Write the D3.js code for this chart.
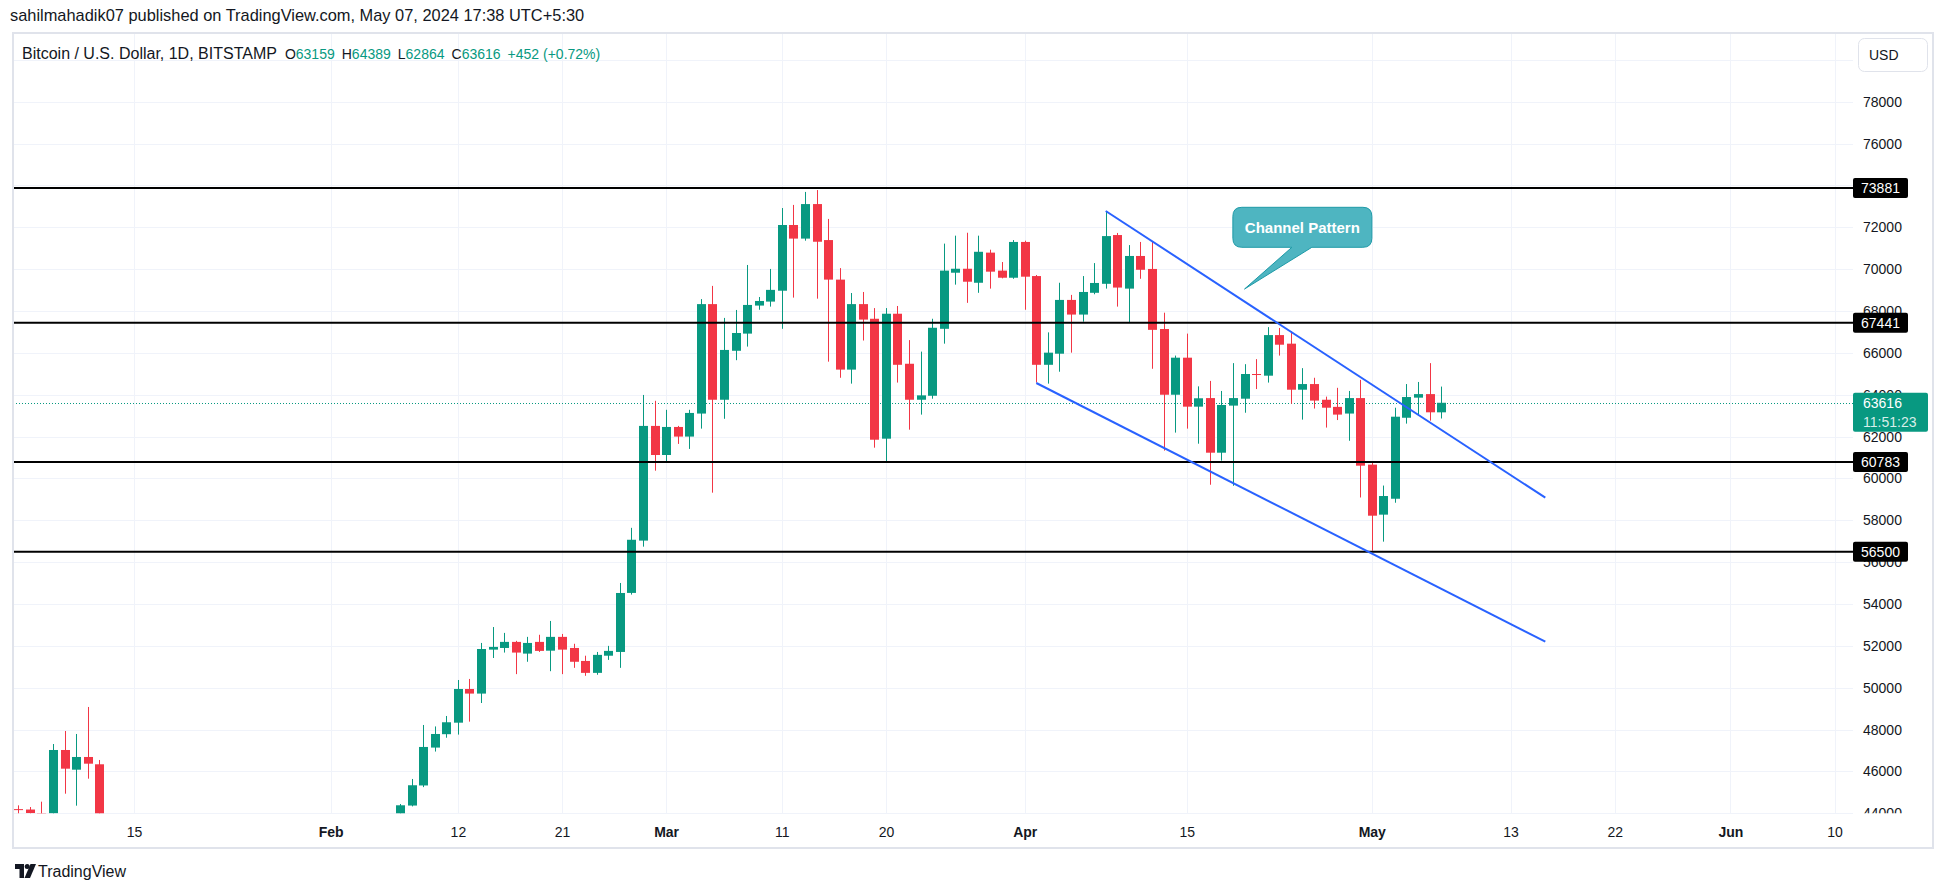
<!DOCTYPE html>
<html>
<head>
<meta charset="utf-8">
<script src="https://cdn.jsdelivr.net/npm/d3@7"></script>
<style>
  body { margin: 0; background: #fff; }
  svg { display: block; font-family: "Liberation Sans", Arial, sans-serif; }
</style>
</head>
<body>
<div id="chart-container"></div>
<script>
// daily candles, BTC/USD Bitstamp
const candleDates = [
  "2024-01-05","2024-01-06","2024-01-07","2024-01-08","2024-01-09","2024-01-10","2024-01-11","2024-01-12",
  "2024-02-07","2024-02-08","2024-02-09","2024-02-10","2024-02-11","2024-02-12","2024-02-13","2024-02-14",
  "2024-02-15","2024-02-16","2024-02-17","2024-02-18","2024-02-19","2024-02-20","2024-02-21","2024-02-22",
  "2024-02-23","2024-02-24","2024-02-25","2024-02-26","2024-02-27","2024-02-28","2024-02-29","2024-03-01",
  "2024-03-02","2024-03-03","2024-03-04","2024-03-05","2024-03-06","2024-03-07","2024-03-08","2024-03-09",
  "2024-03-10","2024-03-11","2024-03-12","2024-03-13","2024-03-14","2024-03-15","2024-03-16","2024-03-17",
  "2024-03-18","2024-03-19","2024-03-20","2024-03-21","2024-03-22","2024-03-23","2024-03-24","2024-03-25",
  "2024-03-26","2024-03-27","2024-03-28","2024-03-29","2024-03-30","2024-03-31","2024-04-01","2024-04-02",
  "2024-04-03","2024-04-04","2024-04-05","2024-04-06","2024-04-07","2024-04-08","2024-04-09","2024-04-10",
  "2024-04-11","2024-04-12","2024-04-13","2024-04-14","2024-04-15","2024-04-16","2024-04-17","2024-04-18",
  "2024-04-19","2024-04-20","2024-04-21","2024-04-22","2024-04-23","2024-04-24","2024-04-25","2024-04-26",
  "2024-04-27","2024-04-28","2024-04-29","2024-04-30","2024-05-01","2024-05-02","2024-05-03","2024-05-04",
  "2024-05-05","2024-05-06","2024-05-07"
];
const opens = [
  44200,44180,44010,43990,47025,46084,46691,46342,
  43090,44370,45330,47140,47780,48330,49940,49720,
  51820,51900,52190,51630,52190,51770,52430,51900,
  51280,50710,51530,51710,54530,57030,62510,61120,
  62460,62000,63100,68330,63760,66100,66920,68260,
  68450,68970,72110,71460,73110,71390,69500,65200,
  68330,67630,61900,67870,65480,63760,63950,67150,
  69830,70020,69350,70790,69930,69590,71300,69670,
  65430,65960,68530,67830,68870,69300,71630,69070,
  70630,70010,67140,64000,65770,63430,63840,61230,
  63480,63810,64990,64910,66850,66440,64240,64510,
  63760,63420,63100,63840,60660,58270,59030,62900,
  63860,64030,63159
];
const highs = [
  44380,44300,44555,47310,47933,47790,49080,46548,
  44445,45640,48220,48150,48650,50370,50420,52140,
  52900,52620,52240,52430,52530,53190,52570,52100,
  51530,51710,52000,55005,57640,63990,63710,63280,
  62510,63280,68570,69200,67670,68050,70200,68670,
  70010,72920,73070,73690,73780,72400,70050,68860,
  68910,68140,68140,68240,66610,66060,67630,71220,
  71600,71740,71600,70930,70340,71390,71360,69720,
  66980,69350,68770,69670,70290,72780,71730,71150,
  71300,71300,67920,65870,66920,64400,64660,64180,
  65510,65460,65700,67230,67190,67040,65270,64810,
  63910,64330,64180,64710,60800,59660,63380,64510,
  64610,65510,64389
];
const lows = [
  42600,43400,43600,43200,44937,44364,45654,41500,
  42800,44330,45250,46950,47610,47760,48380,49270,
  51420,51680,50650,51240,51710,50790,50650,50950,
  50570,50620,51330,50950,54450,56740,60370,60790,
  61650,61410,62380,59320,62850,65650,66300,68060,
  68210,67150,68640,71360,68590,65580,64810,64530,
  66590,61470,60800,64580,62330,63050,63810,66440,
  69260,68390,68870,69070,69560,69540,68060,64580,
  64530,65100,66010,67490,68800,69070,68210,67440,
  69540,65240,61330,62190,62380,61660,59700,60850,
  59650,63140,64270,64580,65870,63570,62810,63340,
  62430,62790,61800,59090,56550,56980,58840,62620,
  63000,62760,62864
];
const closes = [
  44180,44010,43990,47025,46132,46691,46371,42780,
  44383,45340,47170,47790,48350,49940,49720,51850,
  51950,52190,51680,52140,51760,52430,51820,51240,
  50710,51570,51760,54527,57070,62510,61120,62460,
  62000,63130,68330,63760,66140,66950,68290,68480,
  69010,72110,71460,73110,71310,69500,65200,68330,
  67590,61850,67870,65430,63760,63970,67200,69930,
  70020,69400,70830,69880,69590,71300,69640,65430,
  66010,68530,67830,68910,69340,71580,69120,70630,
  69970,67100,64000,65770,63430,63830,61230,63510,
  63840,64990,64950,66850,66390,64240,64510,63720,
  63380,63050,63840,60610,58220,59160,62950,63890,
  64030,63160,63616
];

const gridPrices = [44000,46000,48000,50000,52000,54000,56000,58000,60000,62000,64000,66000,68000,70000,72000,74000,76000,78000,80000];
const priceTickLabels = [44000,46000,48000,50000,52000,54000,56000,58000,60000,62000,64000,66000,68000,70000,72000,74000,76000,78000];
const timeTickDates = ["2024-01-15","2024-02-01","2024-02-12","2024-02-21","2024-03-01","2024-03-11","2024-03-20","2024-04-01","2024-04-15","2024-05-01","2024-05-13","2024-05-22","2024-06-01","2024-06-10"];
const timeTickLabels = ["15","Feb","12","21","Mar","11","20","Apr","15","May","13","22","Jun","10"];
const monthLabels = ["Feb","Mar","Apr","May","Jun"];

const levelValues = [73881, 67441, 60783, 56500];
const upperChannel = [["2024-04-08", 72780], ["2024-05-16", 59080]];
const lowerChannel = [["2024-04-02", 64560], ["2024-05-16", 52200]];
const lastPrice = 63616;
const countdown = "11:51:23";
const calloutText = "Channel Pattern";
const calloutAnchor = ["2024-04-25", 72000];
const calloutTip = ["2024-04-20", 69050];

const publishedText = "sahilmahadik07 published on TradingView.com, May 07, 2024 17:38 UTC+5:30";
const symbolText = "Bitcoin / U.S. Dollar, 1D, BITSTAMP";
const ohlcLegend = [["O", "63159"], ["H", "64389"], ["L", "62864"], ["C", "63616"]];
const changeText = "+452 (+0.72%)";

const container = document.getElementById("chart-container");

function candleChart() {
    const width = 1946;
    const height = 893;
    const paneLeft = 13, paneTop = 33, paneRight = 1933, paneBottom = 848;
    const plotRight = 1853, plotBottom = 813.3;

    const green = "#089981";
    const red = "#F23645";
    const gridColor = "#f0f3fa";
    const textColor = "#131722";

    const parse = d3.utcParse("%Y-%m-%d");
    const data = candleDates.map((d, i) => ({
        date: parse(d), o: opens[i], h: highs[i], l: lows[i], c: closes[i]
    }));

    // scales: one day ~ 11.57px, 2000 USD ~ 41.9px
    const x = d3.scaleUtc()
        .domain([parse("2024-01-15"), parse("2024-06-10")])
        .range([134, 1834.5]);
    const y = d3.scaleLinear()
        .domain([44000, 72000])
        .range([plotBottom, 227.3]);

    const svg = d3.create("svg")
        .attr("width", width)
        .attr("height", height);

    const defs = svg.append("defs");
    defs.append("clipPath").attr("id", "plot-clip")
        .append("rect")
        .attr("x", paneLeft).attr("y", paneTop)
        .attr("width", plotRight - paneLeft).attr("height", plotBottom - paneTop);
    defs.append("clipPath").attr("id", "scale-clip")
        .append("rect")
        .attr("x", plotRight).attr("y", paneTop)
        .attr("width", paneRight - plotRight).attr("height", plotBottom - paneTop);

    // grid
    svg.append("g")
        .selectAll("line")
        .data(gridPrices)
        .join("line")
        .attr("x1", paneLeft).attr("x2", plotRight)
        .attr("y1", d => Math.round(y(d)) + 0.5).attr("y2", d => Math.round(y(d)) + 0.5)
        .attr("stroke", gridColor);

    svg.append("g")
        .selectAll("line")
        .data(timeTickDates.map(parse))
        .join("line")
        .attr("x1", d => Math.round(x(d)) + 0.5).attr("x2", d => Math.round(x(d)) + 0.5)
        .attr("y1", paneTop).attr("y2", plotBottom)
        .attr("stroke", gridColor);

    // last price dotted line
    svg.append("line")
        .attr("x1", paneLeft).attr("x2", plotRight)
        .attr("y1", Math.round(y(lastPrice)) + 0.5).attr("y2", Math.round(y(lastPrice)) + 0.5)
        .attr("stroke", green)
        .attr("stroke-dasharray", "1,2");

    // candles
    const bodyW = 9;
    const candles = svg.append("g")
        .attr("clip-path", "url(#plot-clip)")
        .selectAll("g")
        .data(data)
        .join("g");

    candles.append("line")
        .attr("x1", d => Math.round(x(d.date)) + 0.5)
        .attr("x2", d => Math.round(x(d.date)) + 0.5)
        .attr("y1", d => y(d.h))
        .attr("y2", d => y(d.l))
        .attr("stroke", d => d.c >= d.o ? green : red);

    candles.append("rect")
        .attr("x", d => Math.round(x(d.date)) - 4)
        .attr("y", d => y(Math.max(d.o, d.c)))
        .attr("width", bodyW)
        .attr("height", d => Math.max(1, Math.abs(y(d.o) - y(d.c))))
        .attr("fill", d => d.c >= d.o ? green : red);

    // horizontal levels
    svg.append("g")
        .selectAll("line")
        .data(levelValues)
        .join("line")
        .attr("x1", paneLeft).attr("x2", plotRight)
        .attr("y1", d => y(d)).attr("y2", d => y(d))
        .attr("stroke", "#000")
        .attr("stroke-width", 2);

    // channel
    const channelLine = d3.line()
        .x(d => x(parse(d[0])))
        .y(d => y(d[1]));
    svg.append("g")
        .attr("clip-path", "url(#plot-clip)")
        .selectAll("path")
        .data([upperChannel, lowerChannel])
        .join("path")
        .attr("d", channelLine)
        .attr("fill", "none")
        .attr("stroke", "#2962FF")
        .attr("stroke-width", 2);

    // time axis
    const tickDates = timeTickDates.map(parse);
    const xAxis = svg.append("g")
        .attr("transform", `translate(0,${plotBottom})`)
        .call(d3.axisBottom(x)
            .tickValues(tickDates)
            .tickFormat((d, i) => timeTickLabels[i])
            .tickSize(0));
    xAxis.select(".domain").remove();
    xAxis.selectAll("text")
        .attr("y", 18.5)
        .attr("dy", "0.35em")
        .attr("fill", textColor)
        .attr("font-size", 14)
        .attr("font-family", "Liberation Sans, Arial, sans-serif")
        .attr("font-weight", (d, i) => monthLabels.includes(timeTickLabels[i]) ? "bold" : "normal");

    // price axis
    const yAxis = svg.append("g")
        .attr("clip-path", "url(#scale-clip)")
        .append("g")
        .attr("transform", `translate(1863,0)`)
        .call(d3.axisRight(y)
            .tickValues(priceTickLabels)
            .tickFormat(d3.format("d"))
            .tickSize(0)
            .tickPadding(0));
    yAxis.select(".domain").remove();
    yAxis.selectAll("text")
        .attr("fill", textColor)
        .attr("font-size", 14)
        .attr("font-family", "Liberation Sans, Arial, sans-serif");

    // level labels on the price scale
    const levelTags = svg.append("g")
        .selectAll("g")
        .data(levelValues)
        .join("g")
        .attr("transform", d => `translate(1853,${y(d)})`);
    levelTags.append("rect")
        .attr("x", 0).attr("y", -10)
        .attr("width", 55).attr("height", 20)
        .attr("rx", 2)
        .attr("fill", "#000");
    levelTags.append("text")
        .attr("x", 27.5).attr("dy", "0.36em")
        .attr("text-anchor", "middle")
        .attr("fill", "#fff")
        .attr("font-size", 14)
        .text(d => d);

    // last price tag
    const lastTag = svg.append("g")
        .attr("transform", `translate(1853,${y(lastPrice)})`);
    lastTag.append("rect")
        .attr("x", 0).attr("y", -10)
        .attr("width", 75).attr("height", 39)
        .attr("rx", 2)
        .attr("fill", green);
    lastTag.append("text")
        .attr("x", 10).attr("dy", "0.36em")
        .attr("fill", "#fff")
        .attr("font-size", 14)
        .text(lastPrice);
    lastTag.append("text")
        .attr("x", 10).attr("y", 19).attr("dy", "0.36em")
        .attr("fill", "#fff").attr("fill-opacity", 0.85)
        .attr("font-size", 14)
        .text(countdown);

    // callout
    const cx = x(parse(calloutAnchor[0]));
    const cy = y(calloutAnchor[1]);
    const tipX = x(parse(calloutTip[0]));
    const tipY = y(calloutTip[1]);
    const bw = 139, bh = 40, r = 9;
    const bx = cx - bw / 2, by = cy - bh / 2;
    const p = d3.path();
    p.moveTo(bx + r, by);
    p.lineTo(bx + bw - r, by);
    p.quadraticCurveTo(bx + bw, by, bx + bw, by + r);
    p.lineTo(bx + bw, by + bh - r);
    p.quadraticCurveTo(bx + bw, by + bh, bx + bw - r, by + bh);
    p.lineTo(bx + 79, by + bh);
    p.lineTo(tipX, tipY);
    p.lineTo(bx + 59, by + bh);
    p.lineTo(bx + r, by + bh);
    p.quadraticCurveTo(bx, by + bh, bx, by + bh - r);
    p.lineTo(bx, by + r);
    p.quadraticCurveTo(bx, by, bx + r, by);
    p.closePath();
    svg.append("path")
        .attr("d", p.toString())
        .attr("fill", "#4eb5c1")
        .attr("stroke", "#1e9aa7")
        .attr("stroke-width", 1);
    svg.append("text")
        .attr("x", cx).attr("y", cy)
        .attr("dy", "0.36em")
        .attr("text-anchor", "middle")
        .attr("fill", "#fff")
        .attr("font-weight", "bold")
        .attr("font-size", 15)
        .text(calloutText);

    // pane border
    svg.append("rect")
        .attr("x", paneLeft).attr("y", paneTop)
        .attr("width", paneRight - paneLeft).attr("height", paneBottom - paneTop)
        .attr("fill", "none")
        .attr("stroke", "#e0e3eb")
        .attr("stroke-width", 2);

    // header texts
    svg.append("text")
        .attr("x", 10).attr("y", 15).attr("dy", "0.36em")
        .attr("fill", textColor)
        .attr("font-size", 16.4)
        .text(publishedText);

    const legend = svg.append("text")
        .attr("x", 22).attr("y", 54).attr("dy", "0.36em")
        .attr("fill", textColor)
        .attr("font-size", 14);
    legend.append("tspan").attr("font-size", 16).text(symbolText);
    ohlcLegend.forEach(([k, v], i) => {
        legend.append("tspan").attr("dx", i === 0 ? 8 : 7).text(k);
        legend.append("tspan").attr("fill", green).text(v);
    });
    legend.append("tspan").attr("dx", 7).attr("fill", green).text(changeText);

    // currency button
    svg.append("rect")
        .attr("x", 1858.5).attr("y", 38.5)
        .attr("width", 69).attr("height", 33)
        .attr("rx", 6)
        .attr("fill", "#fff")
        .attr("stroke", "#e0e3eb");
    svg.append("text")
        .attr("x", 1869).attr("y", 55).attr("dy", "0.36em")
        .attr("fill", textColor)
        .attr("font-size", 14)
        .text("USD");

    // TradingView mark
    const logo = svg.append("g").attr("transform", "translate(15,864)").attr("fill", textColor);
    logo.append("path").attr("d", "M0 0 H9 V14 H4.5 V5 H0 Z");
    logo.append("circle").attr("cx", 12.2).attr("cy", 2.5).attr("r", 2.5);
    logo.append("path").attr("d", "M15.5 0 H21 L15 14 H9.5 Z");
    svg.append("text")
        .attr("x", 38).attr("y", 871).attr("dy", "0.36em")
        .attr("fill", textColor)
        .attr("font-size", 16)
        .text("TradingView");

    return svg.node();
}

container.appendChild(candleChart());
</script>
</body>
</html>
